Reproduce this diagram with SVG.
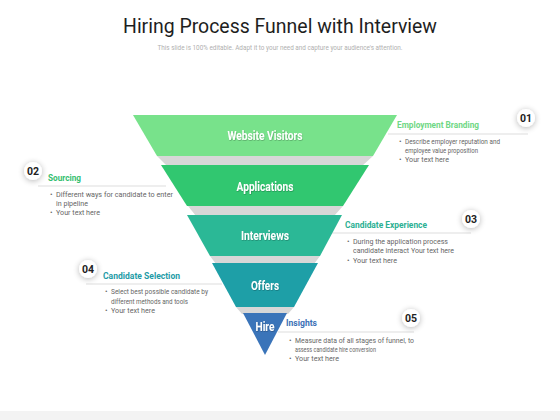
<svg xmlns="http://www.w3.org/2000/svg" width="560" height="420" viewBox="0 0 560 420">
<defs>
<filter id="badgeShadow" x="-1" y="-1" width="3" height="3">
<feGaussianBlur in="SourceAlpha" stdDeviation="3"/>
<feOffset dx="0" dy="0.5" result="b"/>
<feComponentTransfer><feFuncA type="linear" slope="0.3"/></feComponentTransfer>
<feMerge><feMergeNode/><feMergeNode in="SourceGraphic"/></feMerge>
</filter>
<filter id="txtShadow" x="-0.1" y="-0.3" width="1.2" height="1.6">
<feDropShadow dx="0.5" dy="0.7" stdDeviation="0.5" flood-color="#000" flood-opacity="0.3"/>
</filter>
</defs>
<style>
.title{font-family:Roboto,"Liberation Sans",sans-serif;font-size:20px;fill:#1e1e1e}
.sub{font-family:Roboto,"Liberation Sans",sans-serif;font-size:6.5px;fill:#b0b0b0}
.lbl{font-family:Roboto,"Liberation Sans",sans-serif;font-size:12px;font-weight:bold;fill:#fff;text-anchor:middle}
.hd{font-family:Roboto,"Liberation Sans",sans-serif;font-size:9px;font-weight:bold}
.bt{font-family:Roboto,"Liberation Sans",sans-serif;font-size:7.5px;fill:#666}
.num{font-family:Roboto,"Liberation Sans",sans-serif;font-size:10.5px;font-weight:bold;fill:#222;text-anchor:middle}
.gap{fill:#d7d7d7}
.rule{stroke:#d4d4d4;stroke-width:0.8;fill:none}
</style>
<rect width="560" height="420" fill="#fff"/>
<rect x="0" y="411" width="560" height="9" fill="#f3f3f3"/>

<text class="title" x="280" y="33" text-anchor="middle" textLength="314" lengthAdjust="spacingAndGlyphs">Hiring Process Funnel with Interview</text>
<text class="sub" x="280" y="50" text-anchor="middle" textLength="245" lengthAdjust="spacingAndGlyphs">This slide is 100% editable. Adapt it to your need and capture your audience's attention.</text>

<g id="connectors">
<line class="rule" x1="388" y1="134" x2="528" y2="134"/>
<line class="rule" x1="38" y1="186" x2="166" y2="186"/>
<line class="rule" x1="332" y1="233" x2="471" y2="233"/>
<line class="rule" x1="86" y1="284" x2="222" y2="284"/>
<line class="rule" x1="278" y1="332" x2="414" y2="332"/>
</g>

<g id="funnel">
<polygon class="gap" points="157,156 373,156 362,166 167,166"/>
<polygon class="gap" points="188,206 343,206 334,216 196,216"/>
<polygon class="gap" points="210,256 320,256 314,264 216,264"/>
<polygon class="gap" points="236,307 294,307 288,314 242,314"/>
</g>

<g id="stage1">
<polygon points="133,115 397,115 373,156 157,156" fill="#78e28b"/>
<text class="lbl" x="265" y="140" filter="url(#txtShadow)" textLength="75" lengthAdjust="spacingAndGlyphs">Website Visitors</text>
</g>
<g id="stage2">
<polygon points="161,165 369,165 343,206 187,206" fill="#31c770"/>
<text class="lbl" x="265" y="191" filter="url(#txtShadow)" textLength="57" lengthAdjust="spacingAndGlyphs">Applications</text>
</g>
<g id="stage3">
<polygon points="187,215 342,215 320,256 210,256" fill="#2bb896"/>
<text class="lbl" x="265" y="240" filter="url(#txtShadow)" textLength="48" lengthAdjust="spacingAndGlyphs">Interviews</text>
</g>
<g id="stage4">
<polygon points="212,263 318,263 294,307 236,307" fill="#1e9fa7"/>
<text class="lbl" x="265" y="290" filter="url(#txtShadow)" textLength="28" lengthAdjust="spacingAndGlyphs">Offers</text>
</g>
<g id="stage5">
<polygon points="243,313 287,313 265,355" fill="#3a74b9"/>
<text class="lbl" x="265" y="331" filter="url(#txtShadow)" textLength="19" lengthAdjust="spacingAndGlyphs">Hire</text>
</g>

<g id="callout1">
<circle cx="526" cy="118" r="9" fill="#fff" filter="url(#badgeShadow)"/>
<text class="num" x="526" y="122">01</text>
<text class="hd" x="397" y="128" fill="#6fd784" textLength="82" lengthAdjust="spacingAndGlyphs">Employment Branding</text>
<text class="bt" x="399" y="144">•</text>
<text class="bt" x="405" y="144" textLength="95" lengthAdjust="spacingAndGlyphs">Describe employer reputation and</text>
<text class="bt" x="405" y="153" textLength="73" lengthAdjust="spacingAndGlyphs">employee value proposition</text>
<text class="bt" x="399" y="162">•</text>
<text class="bt" x="405" y="162" textLength="44" lengthAdjust="spacingAndGlyphs">Your text here</text>
</g>

<g id="callout2">
<circle cx="33" cy="171" r="9" fill="#fff" filter="url(#badgeShadow)"/>
<text class="num" x="33" y="175">02</text>
<text class="hd" x="48" y="181" fill="#35be70" textLength="33" lengthAdjust="spacingAndGlyphs">Sourcing</text>
<text class="bt" x="50" y="197">•</text>
<text class="bt" x="56" y="197" textLength="117" lengthAdjust="spacingAndGlyphs">Different ways for candidate to enter</text>
<text class="bt" x="56" y="206" textLength="32" lengthAdjust="spacingAndGlyphs">in pipeline</text>
<text class="bt" x="50" y="215">•</text>
<text class="bt" x="56" y="215" textLength="44" lengthAdjust="spacingAndGlyphs">Your text here</text>
</g>

<g id="callout3">
<circle cx="471" cy="219" r="9" fill="#fff" filter="url(#badgeShadow)"/>
<text class="num" x="471" y="223">03</text>
<text class="hd" x="345" y="228" fill="#2bb093" textLength="82" lengthAdjust="spacingAndGlyphs">Candidate Experience</text>
<text class="bt" x="347" y="244">•</text>
<text class="bt" x="353" y="244" textLength="95" lengthAdjust="spacingAndGlyphs">During the application process</text>
<text class="bt" x="353" y="253" textLength="101" lengthAdjust="spacingAndGlyphs">candidate interact Your text here</text>
<text class="bt" x="347" y="263">•</text>
<text class="bt" x="353" y="263" textLength="44" lengthAdjust="spacingAndGlyphs">Your text here</text>
</g>

<g id="callout4">
<circle cx="88" cy="269" r="9" fill="#fff" filter="url(#badgeShadow)"/>
<text class="num" x="88" y="273">04</text>
<text class="hd" x="103" y="279" fill="#1e9ba6" textLength="77" lengthAdjust="spacingAndGlyphs">Candidate Selection</text>
<text class="bt" x="105" y="294">•</text>
<text class="bt" x="111" y="294" textLength="97" lengthAdjust="spacingAndGlyphs">Select best possible candidate by</text>
<text class="bt" x="111" y="304" textLength="77" lengthAdjust="spacingAndGlyphs">different methods and tools</text>
<text class="bt" x="105" y="313">•</text>
<text class="bt" x="111" y="313" textLength="44" lengthAdjust="spacingAndGlyphs">Your text here</text>
</g>

<g id="callout5">
<circle cx="411" cy="318" r="9" fill="#fff" filter="url(#badgeShadow)"/>
<text class="num" x="411" y="322">05</text>
<text class="hd" x="286" y="326" fill="#3b70b5" textLength="31" lengthAdjust="spacingAndGlyphs">Insights</text>
<text class="bt" x="289" y="343">•</text>
<text class="bt" x="295" y="343" textLength="119" lengthAdjust="spacingAndGlyphs">Measure data of all stages  of funnel,  to</text>
<text class="bt" x="295" y="352" textLength="81" lengthAdjust="spacingAndGlyphs">assess candidate hire conversion</text>
<text class="bt" x="289" y="361">•</text>
<text class="bt" x="295" y="361" textLength="44" lengthAdjust="spacingAndGlyphs">Your text here</text>
</g>
</svg>
